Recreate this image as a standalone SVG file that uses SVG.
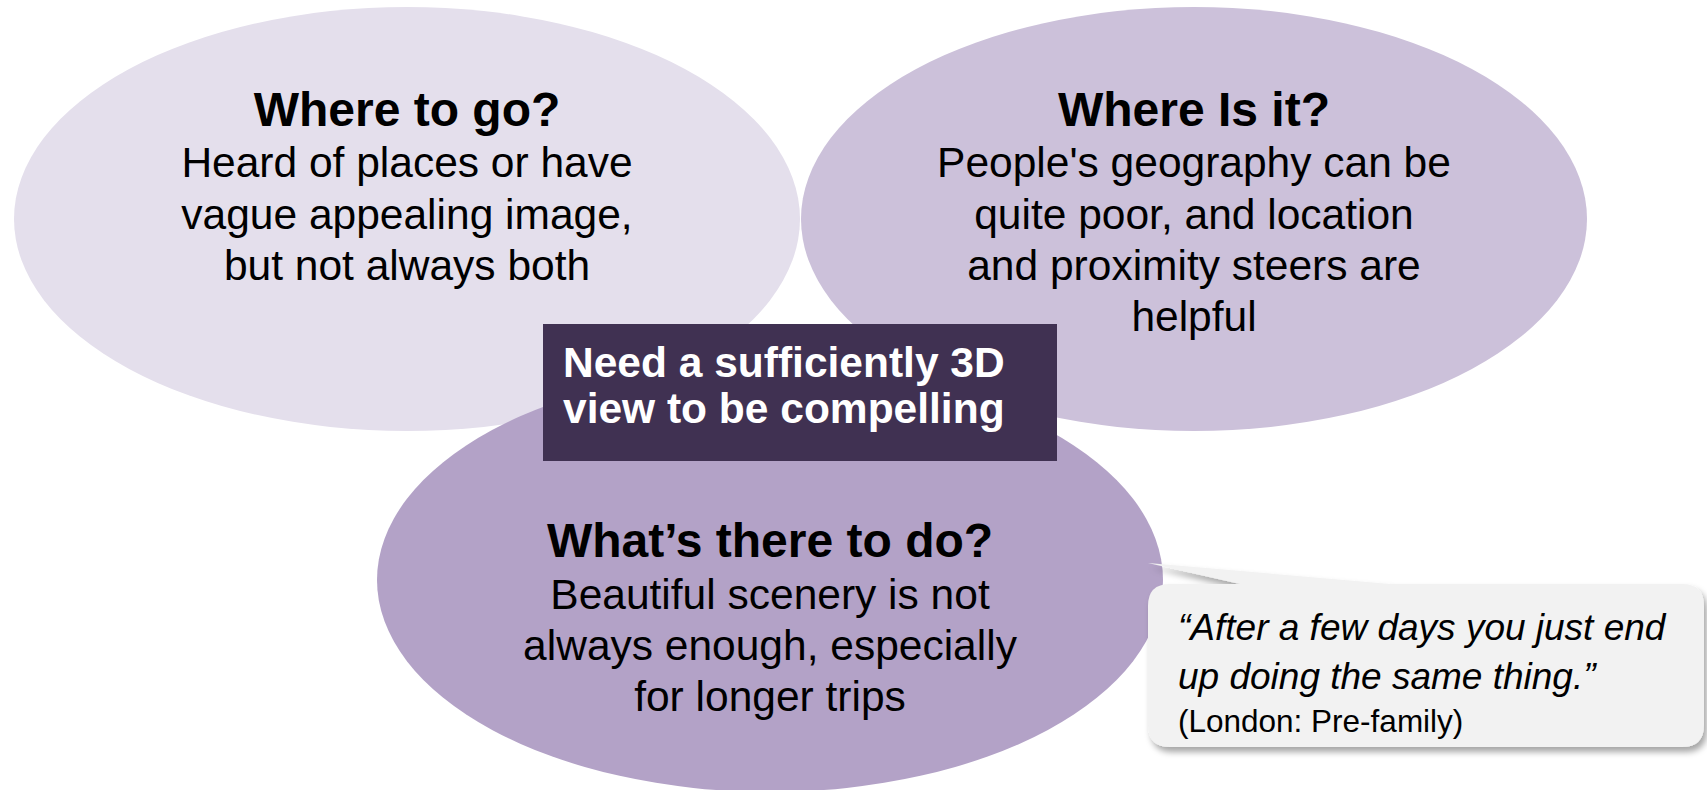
<svg xmlns="http://www.w3.org/2000/svg" width="1707" height="790" viewBox="0 0 1707 790">
<defs>
<style>
text{font-family:"Liberation Sans",Arial,sans-serif;fill:#000}
.t{font-weight:bold;font-size:48px;text-anchor:middle}
.b{font-size:42.5px;text-anchor:middle}
.bx{font-weight:bold;font-size:42.5px;fill:#fff}
.q{font-style:italic;font-size:37px}
.s{font-size:31.5px}
</style>
<filter id="sh" x="-10%" y="-20%" width="125%" height="150%">
<feDropShadow dx="3" dy="5" stdDeviation="3" flood-color="#000" flood-opacity="0.35"/>
</filter>
</defs>
<rect width="1707" height="790" fill="#fff"/>
<g id="where-to-go">
<ellipse cx="407" cy="219" rx="393" ry="212" fill="#E4DFEC"/>
<text class="t" x="407" y="126">Where to go?</text>
<text class="b" x="407" y="177">Heard of places or have</text>
<text class="b" x="407" y="228.5">vague appealing image,</text>
<text class="b" x="407" y="280">but not always both</text>
</g>
<g id="where-is-it">
<ellipse cx="1194" cy="219" rx="393" ry="212" fill="#CCC1DA"/>
<text class="t" x="1194" y="126">Where Is it?</text>
<text class="b" x="1194" y="177">People's geography can be</text>
<text class="b" x="1194" y="228.5">quite poor, and location</text>
<text class="b" x="1194" y="280">and proximity steers are</text>
<text class="b" x="1194" y="331">helpful</text>
</g>
<g id="whats-there">
<ellipse cx="770" cy="580" rx="393" ry="212" fill="#B3A2C7"/>
<text class="t" x="770" y="557">What’s there to do?</text>
<text class="b" x="770" y="609">Beautiful scenery is not</text>
<text class="b" x="770" y="660">always enough, especially</text>
<text class="b" x="770" y="711">for longer trips</text>
</g>
<g id="need-3d">
<rect x="543" y="324" width="514" height="137" fill="#403152"/>
<text class="bx" x="563" y="377">Need a sufficiently 3D</text>
<text class="bx" x="563" y="423">view to be compelling</text>
</g>
<g id="quote">
<path d="M1170,584 L1240,584 L1148,563 L1390,584 L1682,584 Q1704,584 1704,606 L1704,725 Q1704,747 1682,747 L1170,747 Q1148,747 1148,725 L1148,606 Q1148,584 1170,584 Z" fill="#F2F2F2" filter="url(#sh)"/>
<text class="q" x="1178" y="640">“After a few days you just end</text>
<text class="q" x="1178" y="689">up doing the same thing.”</text>
<text class="s" x="1178" y="732">(London: Pre-family)</text>
</g>
<g id="connectors"/>
</svg>
